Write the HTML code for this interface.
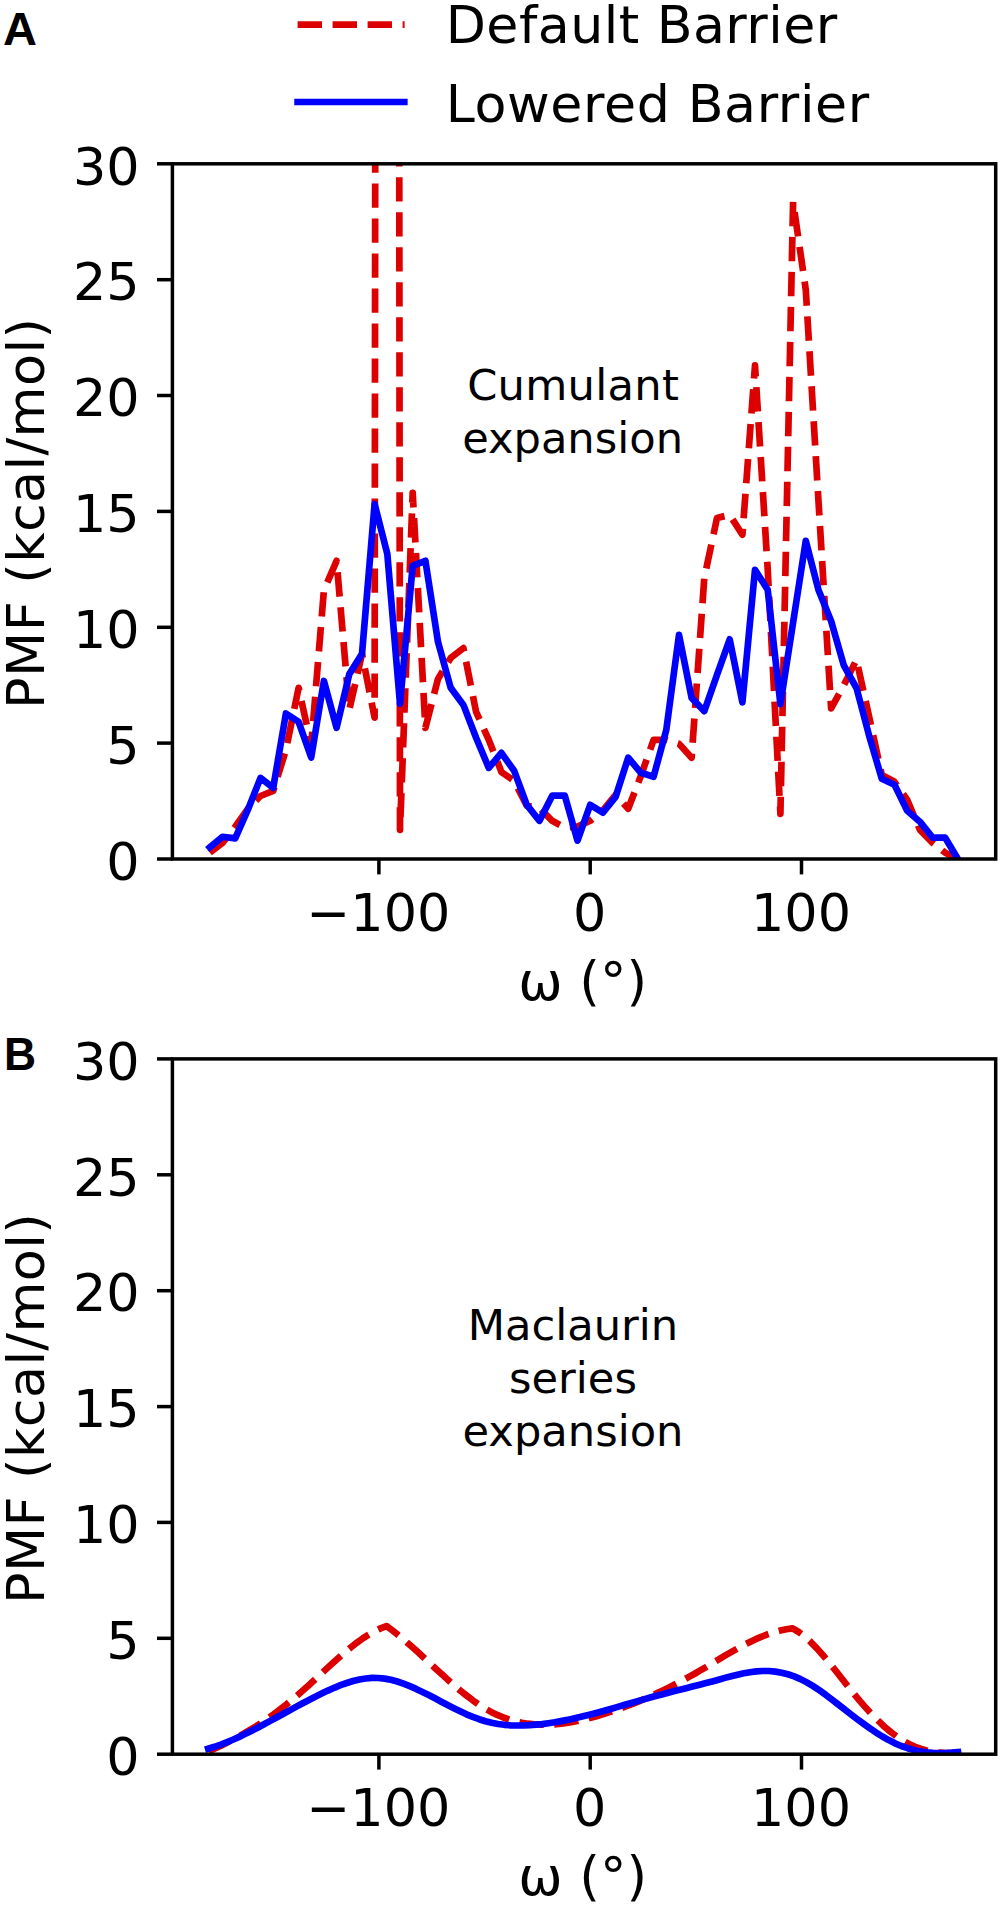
<!DOCTYPE html>
<html><head><meta charset="utf-8"><title>PMF</title>
<style>
html,body{margin:0;padding:0;background:#fff;}
svg{display:block}
text{font-family:"DejaVu Sans","Liberation Sans",sans-serif;fill:#000}
.lab{font-family:"Liberation Sans","DejaVu Sans",sans-serif;font-weight:bold}
</style></head><body>
<svg width="1001" height="1906" viewBox="0 0 1001 1906">
<rect width="1001" height="1906" fill="#fff"/>
<defs>
<clipPath id="ca"><rect x="172.4" y="163.8" width="823.3000000000001" height="695.2"/></clipPath>
<clipPath id="cb"><rect x="172.4" y="1058.9" width="823.3000000000001" height="695.3"/></clipPath>
</defs>
<text class="lab" transform="translate(3.0,44.8) scale(1.005,1)" font-size="46.8">A</text>
<text class="lab" transform="translate(3.9,1070.1) scale(0.95,1)" font-size="46.8">B</text>
<line x1="297.6" y1="24.7" x2="404.6" y2="24.7" stroke="#dc0000" stroke-width="6.7" stroke-dasharray="24.4 10.6"/>
<line x1="297.6" y1="102" x2="404.3" y2="102" stroke="#0000ff" stroke-width="6.7" stroke-linecap="square"/>
<text x="445.7" y="43.4" font-size="52.2" letter-spacing="0.46">Default Barrier</text>
<text x="445.7" y="121.8" font-size="52.2" letter-spacing="0.62">Lowered Barrier</text>
<polyline points="209.8,852.7 222.5,842.8 235.2,826.8 247.8,808.9 260.5,796.0 273.2,790.9 285.9,750.1 298.6,687.8 311.2,745.5 323.9,590.2 336.6,560.8 349.3,709.8 362.0,653.9 374.6,717.6 387.3,-10727.5 400.0,829.8 412.7,492.9 425.4,727.8 438.0,678.9 450.7,657.9 463.4,648.1 476.1,711.9 488.8,739.9 501.4,771.9 514.1,780.9 526.8,805.7 539.5,808.0 552.2,820.8 564.8,827.7 577.5,826.6 590.2,820.8 602.9,810.3 615.6,794.8 628.2,808.7 640.9,775.8 653.6,739.9 666.3,739.9 679.0,743.8 691.6,757.7 704.3,577.9 717.0,517.9 729.7,514.9 742.4,534.8 755.0,365.4 767.7,569.3 780.4,813.8 793.1,201.8 805.8,289.9 818.4,499.8 831.1,708.4 843.8,685.2 856.5,659.7 869.2,716.9 881.8,774.9 894.5,781.8 907.2,799.9 919.9,829.8 932.6,842.8 945.2,852.7 957.9,859.0" fill="none" stroke="#dc0000" stroke-width="6.7" stroke-linejoin="round" stroke-dasharray="24.4 10.6" stroke-linecap="butt" clip-path="url(#ca)"/>
<polyline points="209.8,847.4 222.5,836.8 235.2,838.4 247.8,809.9 260.5,777.9 273.2,787.9 285.9,713.5 298.6,721.8 311.2,757.5 323.9,681.0 336.6,727.8 349.3,674.1 362.0,653.9 374.6,504.0 387.3,553.8 400.0,703.7 412.7,565.9 425.4,560.8 438.0,641.9 450.7,687.8 463.4,704.9 476.1,737.8 488.8,767.9 501.4,752.9 514.1,770.7 526.8,804.8 539.5,820.8 552.2,795.7 564.8,795.7 577.5,840.7 590.2,804.8 602.9,812.7 615.6,796.9 628.2,757.7 640.9,772.8 653.6,776.7 666.3,729.9 679.0,634.9 691.6,697.9 704.3,711.2 717.0,674.8 729.7,639.3 742.4,702.4 755.0,569.8 767.7,589.7 780.4,704.2 793.1,622.6 805.8,540.8 818.4,589.7 831.1,621.0 843.8,665.3 856.5,688.0 869.2,736.0 881.8,778.8 894.5,784.8 907.2,810.8 919.9,821.7 932.6,837.7 945.2,837.7 957.9,859.0" fill="none" stroke="#0000ff" stroke-width="6.7" stroke-linejoin="round" stroke-linecap="square" clip-path="url(#ca)"/>
<rect x="172.4" y="163.8" width="823.3000000000001" height="695.2" fill="none" stroke="#000" stroke-width="3.5"/>
<line x1="157.0" y1="859.0" x2="172.4" y2="859.0" stroke="#000" stroke-width="3.5"/>
<text x="139.6" y="879.7" text-anchor="end" font-size="52.4">0</text>
<line x1="157.0" y1="743.1" x2="172.4" y2="743.1" stroke="#000" stroke-width="3.5"/>
<text x="139.6" y="763.8" text-anchor="end" font-size="52.4">5</text>
<line x1="157.0" y1="627.3" x2="172.4" y2="627.3" stroke="#000" stroke-width="3.5"/>
<text x="139.6" y="648.0" text-anchor="end" font-size="52.4">10</text>
<line x1="157.0" y1="511.4" x2="172.4" y2="511.4" stroke="#000" stroke-width="3.5"/>
<text x="139.6" y="532.1" text-anchor="end" font-size="52.4">15</text>
<line x1="157.0" y1="395.5" x2="172.4" y2="395.5" stroke="#000" stroke-width="3.5"/>
<text x="139.6" y="416.2" text-anchor="end" font-size="52.4">20</text>
<line x1="157.0" y1="279.7" x2="172.4" y2="279.7" stroke="#000" stroke-width="3.5"/>
<text x="139.6" y="300.4" text-anchor="end" font-size="52.4">25</text>
<line x1="157.0" y1="163.8" x2="172.4" y2="163.8" stroke="#000" stroke-width="3.5"/>
<text x="139.6" y="184.5" text-anchor="end" font-size="52.4">30</text>
<line x1="378.9" y1="859.0" x2="378.9" y2="874.4" stroke="#000" stroke-width="3.5"/>
<text x="378.4" y="930.9" text-anchor="middle" font-size="52.4">−100</text>
<line x1="590.2" y1="859.0" x2="590.2" y2="874.4" stroke="#000" stroke-width="3.5"/>
<text x="589.7" y="930.9" text-anchor="middle" font-size="52.4">0</text>
<line x1="801.5" y1="859.0" x2="801.5" y2="874.4" stroke="#000" stroke-width="3.5"/>
<text x="801.0" y="930.9" text-anchor="middle" font-size="52.4">100</text>
<text x="582.7" y="999.8" text-anchor="middle" font-size="53">ω (°)</text>
<text transform="translate(44,513.3) rotate(-90)" text-anchor="middle" font-size="52.4" letter-spacing="0.40">PMF (kcal/mol)</text>
<text x="573.2" y="400.1" text-anchor="middle" font-size="43.2" letter-spacing="0.3">Cumulant</text>
<text x="572.6" y="452.9" text-anchor="middle" font-size="43.2">expansion</text>
<polyline points="208.5,1751.3 214.4,1748.7 220.4,1746.0 226.3,1743.1 232.2,1740.0 238.2,1736.8 244.1,1733.5 250.0,1730.0 256.0,1726.3 261.9,1722.4 267.8,1718.4 273.8,1714.2 279.7,1709.7 285.6,1705.1 291.6,1700.3 297.5,1695.3 303.4,1690.1 309.4,1684.7 315.3,1679.2 321.2,1673.7 327.2,1668.1 333.1,1662.7 339.0,1657.4 345.0,1652.2 350.9,1647.3 356.8,1642.7 362.8,1638.4 368.7,1634.6 374.6,1631.2 380.6,1628.4 386.5,1626.1 386.5,1626.0 392.7,1630.6 398.8,1635.5 405.0,1640.7 411.1,1646.1 417.3,1651.6 423.4,1657.2 429.6,1662.9 435.7,1668.7 441.9,1674.3 448.0,1679.9 454.2,1685.3 460.3,1690.6 466.5,1695.5 472.6,1700.2 478.8,1704.5 484.9,1708.5 491.1,1711.9 497.3,1714.9 503.4,1717.5 509.6,1719.7 515.7,1721.4 521.9,1722.7 528.0,1723.7 534.2,1724.4 540.3,1724.7 546.5,1724.7 552.6,1724.5 558.8,1724.0 564.9,1723.2 571.1,1722.2 577.2,1721.0 583.4,1719.6 589.5,1718.1 595.7,1716.4 601.9,1714.6 608.0,1712.6 614.2,1710.6 620.3,1708.4 626.5,1706.2 632.6,1703.8 638.8,1701.3 644.9,1698.7 651.1,1696.0 657.2,1693.1 663.4,1690.2 669.5,1687.2 675.7,1684.0 681.8,1680.8 688.0,1677.4 694.2,1674.0 700.3,1670.4 706.5,1666.8 712.6,1663.1 718.8,1659.4 724.9,1655.7 731.1,1652.2 737.2,1648.7 743.4,1645.3 749.5,1642.2 755.7,1639.2 761.8,1636.6 768.0,1634.2 774.1,1632.1 780.3,1630.5 786.4,1629.2 792.6,1628.4 792.6,1628.4 798.7,1632.0 804.9,1636.7 811.0,1642.3 817.1,1648.6 823.2,1655.5 829.4,1662.8 835.5,1670.5 841.6,1678.3 847.7,1686.1 853.9,1693.7 860.0,1701.1 866.1,1708.1 872.2,1714.7 878.4,1720.9 884.5,1726.7 890.6,1731.9 896.7,1736.5 902.9,1740.6 909.0,1744.0 915.1,1746.8 921.2,1749.0 927.4,1750.7 933.5,1751.9 939.6,1752.7 945.7,1753.1 951.9,1753.2 958.0,1753.0" fill="none" stroke="#dc0000" stroke-width="6.7" stroke-linejoin="round" stroke-dasharray="24.4 10.6" stroke-linecap="butt" clip-path="url(#cb)"/>
<polyline points="208.2,1748.8 214.5,1746.8 220.8,1744.6 227.1,1742.1 233.4,1739.5 239.7,1736.6 246.0,1733.6 252.3,1730.4 258.6,1727.2 264.9,1723.8 271.2,1720.4 277.5,1717.0 283.8,1713.5 290.1,1710.1 296.4,1706.6 302.7,1703.3 309.0,1700.0 315.3,1696.7 321.6,1693.6 327.9,1690.6 334.2,1687.8 340.5,1685.2 346.8,1683.0 353.1,1681.0 359.4,1679.5 365.7,1678.5 372.0,1677.9 378.3,1678.0 384.6,1678.6 390.9,1679.8 397.2,1681.5 403.5,1683.6 409.8,1686.1 416.1,1688.9 422.4,1691.9 428.7,1695.0 435.0,1698.3 441.3,1701.7 447.6,1705.0 453.9,1708.2 460.2,1711.3 466.5,1714.3 472.8,1716.9 479.1,1719.2 485.4,1721.2 491.7,1722.8 498.0,1724.0 504.3,1724.8 510.6,1725.3 516.9,1725.5 523.2,1725.5 529.5,1725.2 535.8,1724.7 542.1,1724.1 548.4,1723.2 554.7,1722.3 561.0,1721.1 567.3,1719.9 573.6,1718.5 579.9,1717.1 586.3,1715.5 592.6,1713.9 598.9,1712.2 605.2,1710.5 611.5,1708.7 617.8,1706.9 624.1,1705.0 630.4,1703.2 636.7,1701.4 643.0,1699.6 649.3,1697.8 655.6,1696.0 661.9,1694.4 668.2,1692.7 674.5,1691.1 680.8,1689.5 687.1,1687.9 693.4,1686.3 699.7,1684.7 706.0,1683.1 712.3,1681.4 718.6,1679.7 724.9,1677.9 731.2,1676.2 737.5,1674.7 743.8,1673.3 750.1,1672.2 756.4,1671.4 762.7,1671.0 769.0,1671.0 775.3,1671.6 781.6,1672.7 787.9,1674.3 794.2,1676.4 800.5,1679.1 806.8,1682.4 813.1,1686.1 819.4,1690.3 825.7,1694.8 832.0,1699.6 838.3,1704.5 844.6,1709.4 850.9,1714.3 857.2,1719.1 863.5,1723.8 869.8,1728.3 876.1,1732.6 882.4,1736.5 888.7,1740.1 895.0,1743.3 901.3,1746.0 907.6,1748.2 913.9,1750.0 920.2,1751.4 926.5,1752.3 932.8,1752.9 939.1,1753.2 945.4,1753.1 951.7,1752.7 958.0,1752.1" fill="none" stroke="#0000ff" stroke-width="6.7" stroke-linejoin="round" stroke-linecap="square" clip-path="url(#cb)"/>
<rect x="172.4" y="1058.9" width="823.3000000000001" height="695.3" fill="none" stroke="#000" stroke-width="3.5"/>
<line x1="157.0" y1="1754.2" x2="172.4" y2="1754.2" stroke="#000" stroke-width="3.5"/>
<text x="139.6" y="1774.9" text-anchor="end" font-size="52.4">0</text>
<line x1="157.0" y1="1638.3" x2="172.4" y2="1638.3" stroke="#000" stroke-width="3.5"/>
<text x="139.6" y="1659.0" text-anchor="end" font-size="52.4">5</text>
<line x1="157.0" y1="1522.4" x2="172.4" y2="1522.4" stroke="#000" stroke-width="3.5"/>
<text x="139.6" y="1543.1" text-anchor="end" font-size="52.4">10</text>
<line x1="157.0" y1="1406.6" x2="172.4" y2="1406.6" stroke="#000" stroke-width="3.5"/>
<text x="139.6" y="1427.3" text-anchor="end" font-size="52.4">15</text>
<line x1="157.0" y1="1290.7" x2="172.4" y2="1290.7" stroke="#000" stroke-width="3.5"/>
<text x="139.6" y="1311.4" text-anchor="end" font-size="52.4">20</text>
<line x1="157.0" y1="1174.8" x2="172.4" y2="1174.8" stroke="#000" stroke-width="3.5"/>
<text x="139.6" y="1195.5" text-anchor="end" font-size="52.4">25</text>
<line x1="157.0" y1="1058.9" x2="172.4" y2="1058.9" stroke="#000" stroke-width="3.5"/>
<text x="139.6" y="1079.6" text-anchor="end" font-size="52.4">30</text>
<line x1="378.9" y1="1754.2" x2="378.9" y2="1769.6" stroke="#000" stroke-width="3.5"/>
<text x="378.4" y="1826.1" text-anchor="middle" font-size="52.4">−100</text>
<line x1="590.2" y1="1754.2" x2="590.2" y2="1769.6" stroke="#000" stroke-width="3.5"/>
<text x="589.7" y="1826.1" text-anchor="middle" font-size="52.4">0</text>
<line x1="801.5" y1="1754.2" x2="801.5" y2="1769.6" stroke="#000" stroke-width="3.5"/>
<text x="801.0" y="1826.1" text-anchor="middle" font-size="52.4">100</text>
<text x="582.7" y="1895.0" text-anchor="middle" font-size="53">ω (°)</text>
<text transform="translate(44,1408.5) rotate(-90)" text-anchor="middle" font-size="52.4" letter-spacing="0.40">PMF (kcal/mol)</text>
<text x="573" y="1339.8" text-anchor="middle" font-size="43.2">Maclaurin</text>
<text x="573" y="1392.8" text-anchor="middle" font-size="43.2">series</text>
<text x="573" y="1445.8" text-anchor="middle" font-size="43.2">expansion</text>
</svg></body></html>
